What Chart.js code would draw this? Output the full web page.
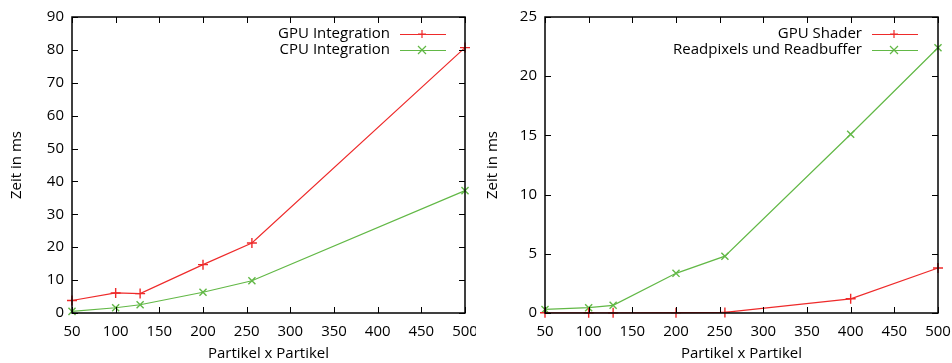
<!DOCTYPE html>
<html>
<head>
<meta charset="utf-8">
<script src="https://cdn.jsdelivr.net/npm/chart.js@4"></script>
<style>
  html, body { margin: 0; padding: 0; background: #fff; }
  #wrap { position: relative; width: 952px; height: 363px; overflow: hidden; }
  canvas { position: absolute; top: 0; }
</style>
</head>
<body>
<div id="wrap">
  <canvas id="left" width="476" height="363" style="left:0"></canvas>
  <canvas id="right" width="476" height="363" style="left:476px"></canvas>
</div>
<script>
// left chart: integration
const leftX = [50, 100, 128, 200, 256, 500];
const gpuIntegration = [3.8, 6.1, 5.9, 14.7, 21.3, 80.7];
const cpuIntegration = [0.5, 1.6, 2.5, 6.3, 9.8, 37.2];
const leftYTicks = [0, 10, 20, 30, 40, 50, 60, 70, 80, 90];

// right chart: shader vs readback
const rightX = [50, 100, 128, 200, 256, 400, 500];
const gpuShader = [0.02, 0.02, 0.02, 0.03, 0.05, 1.2, 3.8];
const readpixels = [0.3, 0.45, 0.65, 3.35, 4.8, 15.1, 22.4];
const rightYTicks = [0, 5, 10, 15, 20, 25];

const xTicks = [50, 100, 150, 200, 250, 300, 350, 400, 450, 500];

const RED = '#ee2a2a';
const GREEN = '#62b846';
const FONT = 'Open Sans';
const FSIZE = 15;

function pts(xs, ys) {
    return xs.map((x, i) => ({ x: x, y: ys[i] }));
}

// gnuplot style: ticks inward on all four sides + legend inside top right
const gnuplotStuff = {
    id: 'gnuplotStuff',
    afterDraw(chart, args, opts) {
        const ctx = chart.ctx;
        const a = chart.chartArea;
        const xs = chart.scales.x, ys = chart.scales.y;
        ctx.save();
        ctx.strokeStyle = '#000';
        ctx.lineWidth = 1;
        ctx.beginPath();
        xTicks.forEach(v => {
            const px = Math.round(xs.getPixelForValue(v)) + 0.5;
            ctx.moveTo(px, a.bottom); ctx.lineTo(px, a.bottom - 6);
            ctx.moveTo(px, a.top); ctx.lineTo(px, a.top + 6);
        });
        opts.yTicks.forEach(v => {
            const py = Math.round(ys.getPixelForValue(v)) + 0.5;
            ctx.moveTo(a.left, py); ctx.lineTo(a.left + 6, py);
            ctx.moveTo(a.right, py); ctx.lineTo(a.right - 6, py);
        });
        ctx.stroke();
        ctx.lineWidth = 1.5;
        ctx.strokeRect(a.left, a.top, a.right - a.left, a.bottom - a.top);

        // legend
        ctx.font = FSIZE + 'px "' + FONT + '"';
        ctx.textAlign = 'right';
        ctx.textBaseline = 'middle';
        chart.data.datasets.forEach((ds, i) => {
            const y = opts.legendY + i * 16;
            ctx.fillStyle = '#000';
            ctx.fillText(ds.label, opts.legendTextX, y);
            ctx.strokeStyle = ds.borderColor;
            ctx.lineWidth = 1.2;
            ctx.beginPath();
            ctx.moveTo(opts.legendTextX + 10, y + 0.5);
            ctx.lineTo(opts.legendTextX + 56, y + 0.5);
            ctx.stroke();
            const mx = opts.legendTextX + 32;
            ctx.beginPath();
            if (ds.pointStyle === 'cross') {
                ctx.moveTo(mx - 4, y); ctx.lineTo(mx + 4, y);
                ctx.moveTo(mx, y - 4); ctx.lineTo(mx, y + 4);
            } else {
                ctx.moveTo(mx - 4, y - 4); ctx.lineTo(mx + 4, y + 4);
                ctx.moveTo(mx - 4, y + 4); ctx.lineTo(mx + 4, y - 4);
            }
            ctx.stroke();
        });
        ctx.restore();
    }
};

function makeChart(id, xs, s1, s2, labels, yMax, yStep, yTicks, yWidth, rightPad, legendTextX) {
    return new Chart(document.getElementById(id), {
        type: 'line',
        data: {
            datasets: [
                { label: labels[0], data: pts(xs, s1), borderColor: RED, backgroundColor: RED,
                  borderWidth: 1.2, pointStyle: 'cross', pointRadius: 5, pointBorderWidth: 1.4,
                  tension: 0, fill: false },
                { label: labels[1], data: pts(xs, s2), borderColor: GREEN, backgroundColor: GREEN,
                  borderWidth: 1.2, pointStyle: 'crossRot', pointRadius: 5, pointBorderWidth: 1.4,
                  tension: 0, fill: false }
            ]
        },
        options: {
            responsive: false,
            animation: false,
            clip: false,
            layout: { padding: { top: 17, right: rightPad, left: 0, bottom: 0 } },
            plugins: {
                legend: { display: false },
                tooltip: { enabled: false },
                gnuplotStuff: { yTicks: yTicks, legendY: 34, legendTextX: legendTextX }
            },
            scales: {
                x: {
                    type: 'linear', min: 50, max: 500,
                    ticks: { stepSize: 50, color: '#000', font: { family: FONT, size: FSIZE }, padding: 10, maxRotation: 0, autoSkip: false },
                    grid: { display: false, drawTicks: false },
                    border: { display: false },
                    title: { display: true, text: 'Partikel x Partikel', color: '#000', font: { family: FONT, size: FSIZE }, padding: { top: 2, bottom: 0 } },
                    afterFit: s => { s.height = 50; s.paddingLeft = 0; s.paddingRight = 0; }
                },
                y: {
                    min: 0, max: yMax,
                    ticks: { stepSize: yStep, color: '#000', font: { family: FONT, size: FSIZE }, padding: 8 },
                    grid: { display: false, drawTicks: false },
                    border: { display: false },
                    title: { display: true, text: 'Zeit in ms', color: '#000', font: { family: FONT, size: FSIZE }, padding: { top: 8, bottom: 0 } },
                    afterFit: s => { s.width = yWidth; s.paddingTop = 0; s.paddingBottom = 0; }
                }
            }
        },
        plugins: [gnuplotStuff]
    });
}

makeChart('left', leftX, gpuIntegration, cpuIntegration,
    ['GPU Integration', 'CPU Integration'], 90, 10, leftYTicks, 72, 11, 390);
makeChart('right', rightX, gpuShader, readpixels,
    ['GPU Shader', 'Readpixels und Readbuffer'], 25, 5, rightYTicks, 69, 14, 386);
</script>
</body>
</html>
